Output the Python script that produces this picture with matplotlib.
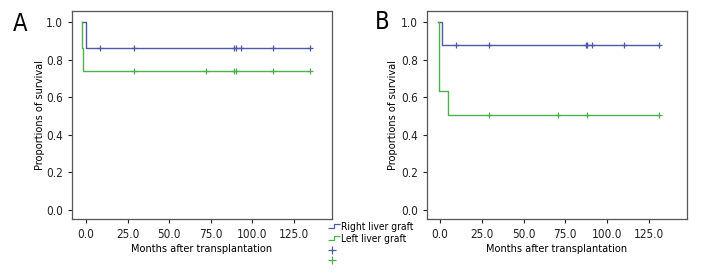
import matplotlib
matplotlib.use('Agg')
import matplotlib.pyplot as plt
from matplotlib.lines import Line2D
from matplotlib.path import Path

plt.rcParams['font.family'] = ['DejaVu Sans']
plt.rcParams['font.stretch'] = 'condensed'

# panel A: Kaplan-Meier steps (time, survival) and censor marks
a_right_t = [-2.5, -0.2, 134.8]
a_right_s = [1.0, 0.862, 0.862]
a_right_cens = [8.4, 28.8, 89.2, 90.2, 93.0, 112.6, 134.8]

a_left_t = [-2.6, -2.6, -1.8, 134.8]
a_left_s = [1.0, 0.862, 0.737, 0.737]
a_left_cens = [28.8, 71.9, 89.2, 90.2, 112.6, 134.8]

# panel B
b_right_t = [-1.4, 1.0, 131.2]
b_right_s = [1.0, 0.878, 0.878]
b_right_cens = [9.8, 29.3, 87.2, 88.2, 90.7, 109.9, 131.2]

b_left_t = [-0.8, -0.8, -0.8, 5.0, 131.2]
b_left_s = [1.0, 0.75, 0.632, 0.507, 0.507]
b_left_cens = [29.3, 70.8, 87.7, 131.2]

xticks = [0, 25, 50, 75, 100, 125]
yticks = [0.0, 0.2, 0.4, 0.6, 0.8, 1.0]
groups = ['Right liver graft', 'Left liver graft']

blue = '#4f5aa6'
green = '#4fb04f'


def km(ax, t, s, cens, color):
    ax.step(t, s, where='post', color=color, lw=1.0)
    # censor marks sit on the curve
    cy = []
    for c in cens:
        v = s[0]
        for ti, si in zip(t, s):
            if ti <= c:
                v = si
        cy.append(v)
    ax.plot(cens, cy, '+', color=color, ms=4, mew=0.9, ls='none')


fig = plt.figure(figsize=(7.2, 2.76), dpi=100)
axA = fig.add_axes([0.100, 0.2065, 0.361, 0.7535])
axB = fig.add_axes([0.593, 0.2065, 0.361, 0.7535])

km(axA, a_right_t, a_right_s, a_right_cens, blue)
km(axA, a_left_t, a_left_s, a_left_cens, green)
km(axB, b_right_t, b_right_s, b_right_cens, blue)
km(axB, b_left_t, b_left_s, b_left_cens, green)

for ax, lim, lx in ((axA, (-8.4, 147.8), -0.123), (axB, (-7.8, 147.7), -0.131)):
    ax.set_xlim(*lim)
    ax.set_ylim(-0.048, 1.058)
    ax.set_xticks(xticks)
    ax.set_xticklabels(['%.1f' % x for x in xticks])
    ax.set_yticks(yticks)
    ax.set_yticklabels(['%.1f' % y for y in yticks])
    ax.tick_params(direction='out', length=3, width=0.8, labelsize=8.5, colors='#222222')
    for sp in ax.spines.values():
        sp.set_color('#555555')
        sp.set_linewidth(0.9)
    ax.set_xlabel('Months after transplantation', fontsize=7.8)
    ax.set_ylabel('Proportions of survival', fontsize=7.8)
    ax.yaxis.set_label_coords(lx, 0.5)
    ax.xaxis.set_label_coords(0.5, -0.145)
    ax.xaxis.label.set_va('center')
    ax.yaxis.label.set_va('center')

fig.text(20 / 720, 1 - 24 / 276, 'A', fontsize=17, ha='center', va='center')
fig.text(382 / 720, 1 - 22 / 276, 'B', fontsize=17, ha='center', va='center')

step = Path([(-1, -0.4), (0, -0.4), (0, 0.4), (1, 0.4)],
            [Path.MOVETO, Path.LINETO, Path.LINETO, Path.LINETO])
h_lines = [
    Line2D([], [], color=blue, marker=step, ms=8, mew=0.9, ls='none', fillstyle='none'),
    Line2D([], [], color=green, marker=step, ms=8, mew=0.9, ls='none', fillstyle='none'),
]
h_cens = [
    Line2D([], [], color=blue, marker='+', ms=6, mew=0.9, ls='none'),
    Line2D([], [], color=green, marker='+', ms=6, mew=0.9, ls='none'),
]
fig.legend(h_lines, groups,
           loc='upper left', bbox_to_anchor=(329 / 720, 1 - 222 / 276),
           frameon=False, fontsize=7.3, labelspacing=0.15,
           handlelength=0.9, handletextpad=0.3, borderpad=0, borderaxespad=0)
fig.legend(h_cens, ['', ''],
           loc='upper left', bbox_to_anchor=(329 / 720, 1 - 246 / 276),
           frameon=False, fontsize=5.5, labelspacing=0.1,
           handlelength=0.9, handletextpad=0.3, borderpad=0, borderaxespad=0)

fig.savefig('out.png', dpi=100)
